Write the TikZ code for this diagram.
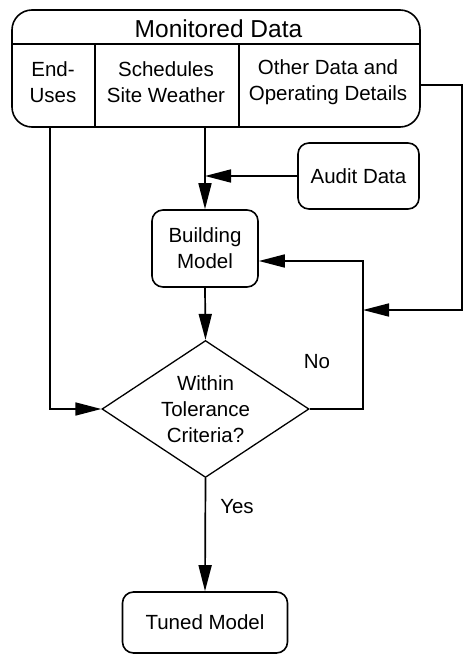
\documentclass[tikz,border=0pt]{standalone}
\usepackage{fontspec}
\setmainfont{Liberation Sans}
\usetikzlibrary{positioning, shapes.geometric, arrows.meta, calc}

\begin{document}
\begin{tikzpicture}[x=1pt,y=-1pt,
    every node/.style={font=\fontsize{20.5}{26}\selectfont, align=center},
    box/.style={draw, line width=1.6pt, rounded corners=11pt, inner sep=0pt},
    arr/.style={-{Triangle[length=26pt,width=13pt]}, line width=1.7pt},
    ln/.style={line width=1.6pt}]
      \useasboundingbox (0,0) rectangle (468,656);
      \node[box, rounded corners=20pt, minimum width=408pt, minimum height=117pt] (md) at (216,68.5) {};%監視データ
      \node[font=\fontsize{24.5}{28}\selectfont] (mdt) at (218.5,29) {Monitored Data};
      \draw[ln] (12,44) -- (420,44);%仕切り
      \draw[ln] (95,44) -- (95,127);
      \draw[ln] (239,44) -- (239,127);
      \node (eu) at (53,82) {End-\\Uses};
      \node (sw) at (166,82) {Schedules\\Site Weather};
      \node (od) at (328,82) {Other Data and\\Operating Details};
      \node[box, minimum width=121pt, minimum height=66pt] (ad) at (358.5,176) {Audit Data};
      \node[box, minimum width=106pt, minimum height=77pt] (bm) at (205,248.5) {Building\\Model};
      \node[draw, diamond, aspect=1.5, line width=1.3pt, inner sep=0pt,
            minimum width=207pt, minimum height=137pt] (chk) at (205.5,409) {Within\\Tolerance\\Criteria?};
      \node[box, minimum width=165pt, minimum height=61pt] (tm) at (205,622.5) {Tuned Model};
      \node (no) at (317,362) {No};
      \node (yes) at (237,507) {Yes};
      \coordinate (euout) at (50,127);%出口
      \coordinate (swout) at (205,127);
      \coordinate (odout) at (420,85);
      \coordinate (odturn) at (462,310);
      \coordinate (fbin) at (363,310);
      \coordinate (nocorner) at (363,261);
      \draw[arr] (euout) |- (chk.west);
      \draw[arr] (swout) -- (bm.north);
      \draw[arr] (ad.west) -- (ad.west -| swout);
      \draw[arr] (bm.south) -- (chk.north);
      \draw[arr] (chk.south) -- (tm.north);
      \draw[arr] (chk.east) -| (nocorner) -- (nocorner -| bm.east);%No
      \draw[arr] (odout) -| (odturn) -- (fbin);
    \end{tikzpicture}
\end{document}
